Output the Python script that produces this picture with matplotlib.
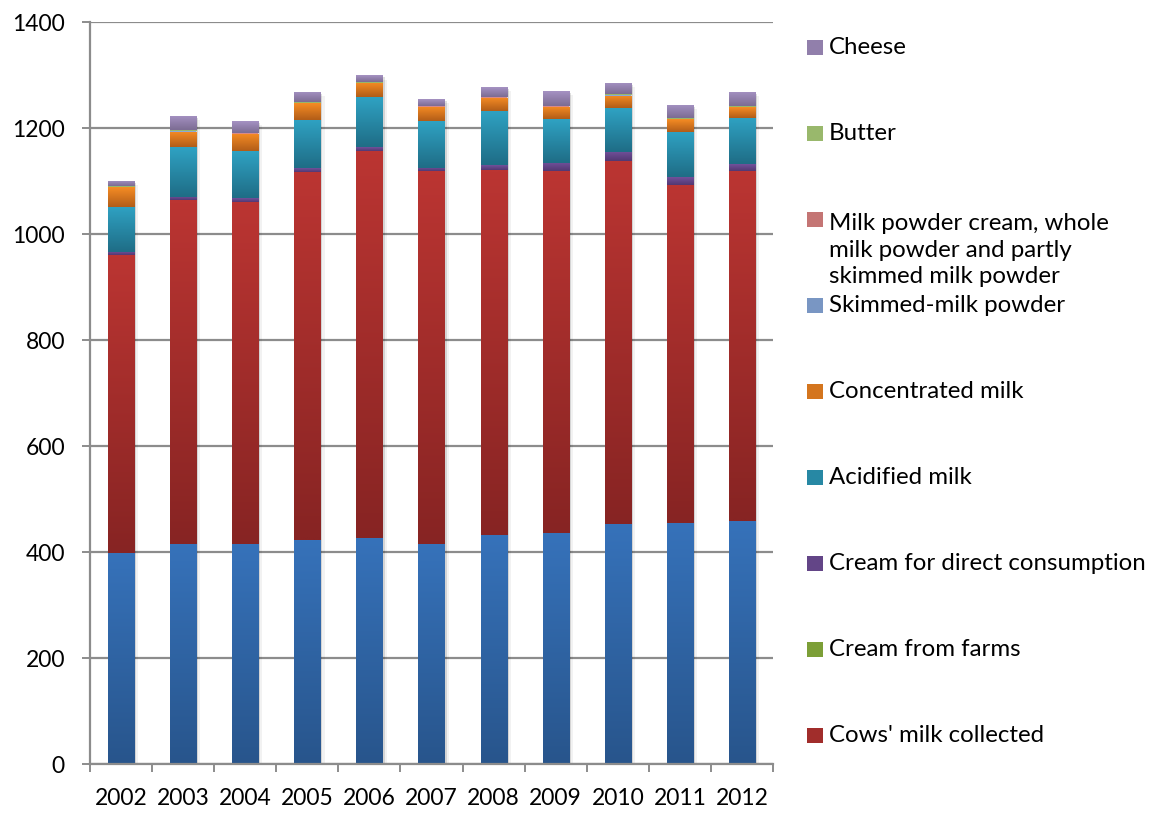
import numpy as np
import matplotlib
matplotlib.use("Agg")
import matplotlib.pyplot as plt
from matplotlib.colors import to_rgb
from matplotlib.patches import Rectangle
import matplotlib.patheffects as pe

plt.rcParams['font.family'] = ['Lato', 'DejaVu Sans']

years = ['2002', '2003', '2004', '2005', '2006', '2007', '2008', '2009', '2010', '2011', '2012']

# series bottom -> top
base_series = [398, 415, 415, 423, 427, 415, 432, 435, 453, 455, 458]
cows_milk = [562, 649, 646, 694, 730, 703, 689, 683, 685, 638, 661]
cream_farms = [0.2, 0.2, 0.2, 0.2, 0.2, 0.2, 0.2, 0.2, 0.2, 0.2, 0.2]
cream_direct = [6, 6, 7, 7, 7, 7, 9, 16, 17, 14, 13]
acidified = [85, 94, 88, 91, 94, 88, 102, 82, 83, 86, 87]
concentrated = [37, 29, 33, 32, 27, 27, 25, 24, 23, 23, 20]
skimmed_powder = [0.3, 0.3, 0.3, 0.3, 0.3, 0.3, 0.3, 0.3, 0.3, 0.3, 0.3]
milk_powder_cream = [0.3, 0.3, 0.3, 0.3, 0.3, 0.3, 0.3, 0.3, 0.3, 0.3, 0.3]
butter = [1.5, 1.5, 1.5, 1.5, 1.5, 1.5, 1.5, 1.5, 1.5, 1.5, 1.5]
cheese = [10, 28, 22, 19, 12, 13, 18, 28, 22, 26, 27]

series = [base_series, cows_milk, cream_farms, cream_direct, acidified, concentrated,
          skimmed_powder, milk_powder_cream, butter, cheese]
labels = [None, "Cows' milk collected", "Cream from farms", "Cream for direct consumption",
          "Acidified milk", "Concentrated milk", "Skimmed-milk powder",
          "Milk powder cream, whole\nmilk powder and partly\nskimmed milk powder",
          "Butter", "Cheese"]
grad_colors = [("#3672BA", "#28558C"),
               ("#BB3532", "#872423"),
               ("#8DB33F", "#6A8A2E"),
               ("#72519B", "#533872"),
               ("#2FA2C3", "#1F6D86"),
               ("#F68C24", "#B25D18"),
               ("#8AAAD8", "#6883AE"),
               ("#D98A88", "#B06060"),
               ("#A9C97A", "#88A65E"),
               ("#A592C3", "#7C6C93")]

W, H = 1163, 813
fig = plt.figure(figsize=(W / 100, H / 100), dpi=100)
ax = fig.add_axes([90 / W, 1 - 764 / H, 683 / W, 742 / H])

x = np.arange(len(years))
width = 0.42
ax.set_xlim(-0.5, len(years) - 0.5)
ax.set_ylim(0, 1400)

grid_c = "#8C8C8C"
ax.set_axisbelow(True)
ax.yaxis.grid(True, color=grid_c, linewidth=1.6)
for s in ['top', 'right']:
    ax.spines[s].set_visible(False)
for s in ['left', 'bottom']:
    ax.spines[s].set_color(grid_c)
    ax.spines[s].set_linewidth(1.6)

# soft shadow behind whole stack
totals = np.sum(np.array(series, dtype=float), axis=0)
ax.bar(x, totals, width, color='white', zorder=1.5,
       path_effects=[pe.SimplePatchShadow(offset=(1.5, -1.5), shadow_rgbFace='black', alpha=0.12),
                     pe.SimplePatchShadow(offset=(3, -3), shadow_rgbFace='black', alpha=0.05),
                     pe.Normal()])

bottom = np.zeros(len(years))
handles = []
for vals, lab, (ctop, cbot) in zip(series, labels, grad_colors):
    vals = np.array(vals, dtype=float)
    bars = ax.bar(x, vals, width, bottom=bottom, color=ctop, linewidth=0, zorder=2)
    grad = np.linspace(0, 1, 64)[:, None, None]
    img = (1 - grad) * np.array(to_rgb(ctop)) + grad * np.array(to_rgb(cbot))
    img = np.repeat(img, 2, axis=1)
    for b in bars:
        x0, y0 = b.get_x(), b.get_y()
        w, h = b.get_width(), b.get_height()
        if h <= 0.5:
            continue
        im = ax.imshow(img, extent=(x0, x0 + w, y0, y0 + h), aspect='auto',
                       origin='upper', zorder=2.1, interpolation='bilinear')
        im.set_clip_path(b)
    bottom += vals
    handles.append((lab, ctop, cbot))

ax.set_xlim(-0.5, len(years) - 0.5)
ax.set_ylim(0, 1400)

ax.set_yticks(np.arange(0, 1401, 200))
ax.tick_params(axis='y', length=6, width=1.4, color=grid_c, pad=12, labelsize=16.5)
ax.set_xticks(x)
ax.set_xticklabels(years)
ax.tick_params(axis='x', which='major', length=0, pad=17, labelsize=16.5)
ax.set_xticks(np.arange(-0.5, len(years), 1), minor=True)
ax.tick_params(axis='x', which='minor', length=6, width=1.4, color=grid_c, direction='out')

# legend (manual, top = last series)
leg_y = [47, 133, 219, 305, 391, 477, 563, 649, 735]
line_px = 31
order = list(range(len(series) - 1, 0, -1))
for yy, idx in zip(leg_y, order):
    lab, ctop, cbot = handles[idx]
    mid = tuple((np.array(to_rgb(ctop)) + np.array(to_rgb(cbot))) / 2)
    sq = Rectangle((807 / W, 1 - (yy + 8) / H), 16 / W, 15 / H, transform=fig.transFigure,
                   facecolor=mid, edgecolor='none')
    fig.patches.append(sq)
    nlines = lab.count('\n') + 1
    cy = yy + (nlines - 1) * line_px / 2
    fig.text(829 / W, 1 - cy / H, lab, fontsize=17.3, va='center', ha='left',
             linespacing=1.3, color='black')

fig.savefig("out.png", dpi=100)
